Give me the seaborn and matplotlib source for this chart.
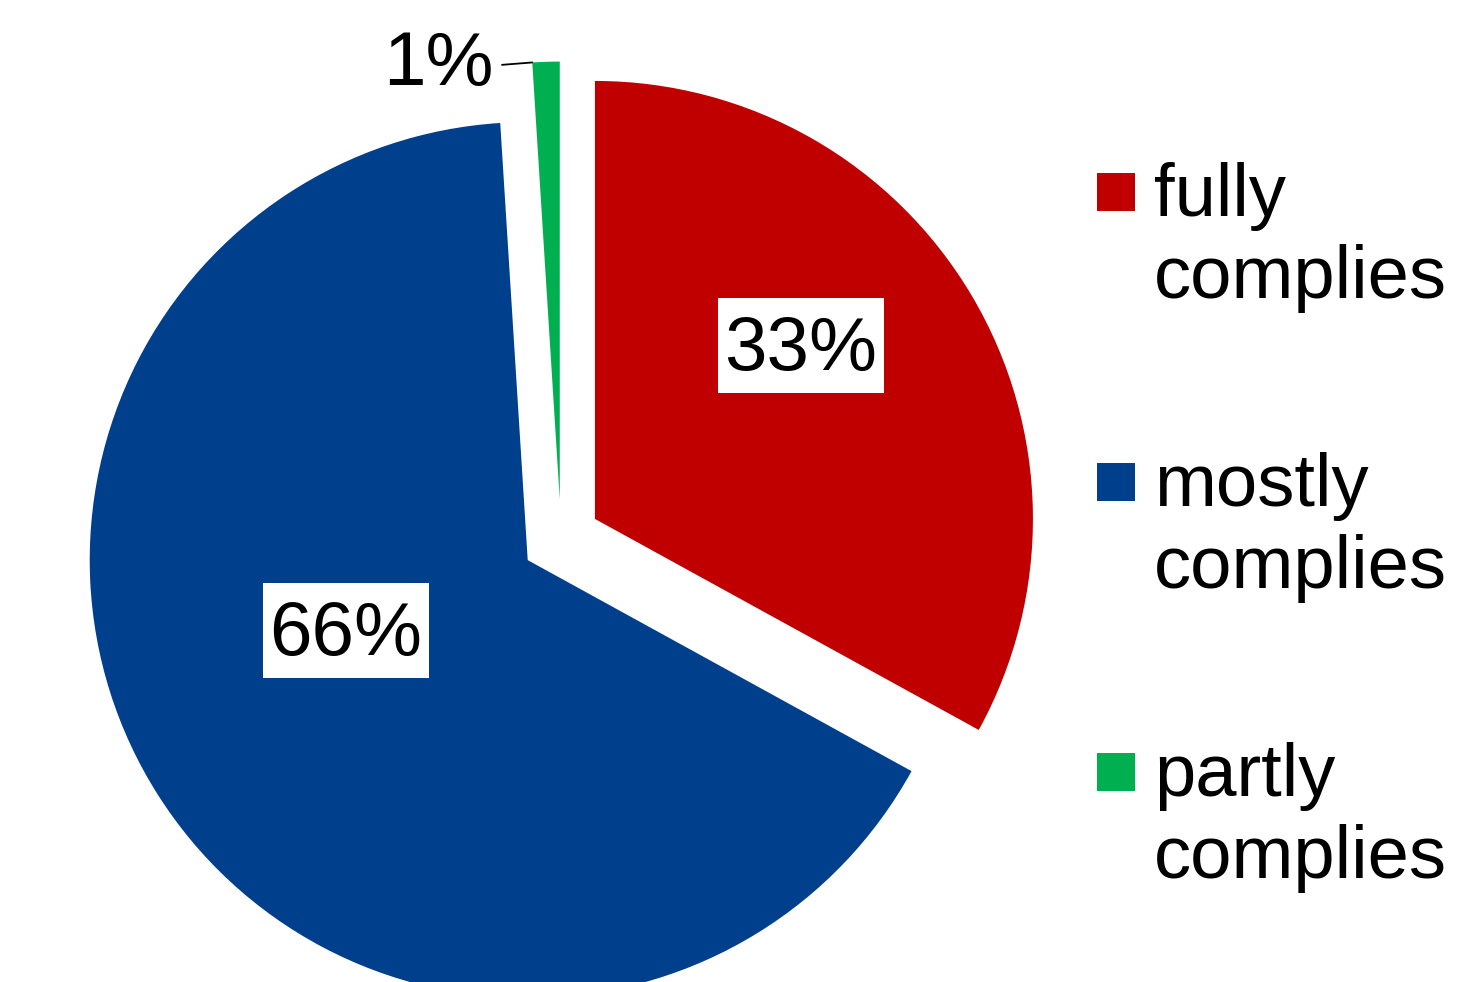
"""
Compliance share pie chart (exploded wedges, boxed percentage labels)
"""

import matplotlib
matplotlib.use('Agg')
import matplotlib.pyplot as plt
import matplotlib.patches as mpatches
import numpy as np
import seaborn as sns

# data
categories = ['fully complies', 'mostly complies', 'partly complies']
shares = [33, 66, 1]
colors = ['#C00000', '#003F8C', '#00B050']

sns.set_theme(style='white')
plt.rcParams['font.family'] = ['Liberation Sans', 'DejaVu Sans']

W, H = 1458, 982
R_PX = 438.0          # pie radius in pixels
CX, CY = 561.0, 539.0  # pie centre in pixels (from top-left)

fig = plt.figure(figsize=(W / 100, H / 100), dpi=100)
fig.patch.set_facecolor('white')
ax = fig.add_axes([0, 0, 1, 1])

wedges, texts, autotexts = ax.pie(
    shares,
    colors=colors,
    startangle=90,
    counterclock=False,
    explode=[0.09] * len(shares),
    radius=1.0,
    autopct='%1.0f%%',
    wedgeprops=dict(linewidth=0, antialiased=True),
    textprops=dict(fontsize=55, color='black'),
)

# label positions (data units, radius = 1)
label_pos = [(0.548, 0.441), (-0.491, -0.209), (-0.281, 1.081)]
box_w, box_h = 166 / R_PX, 95 / R_PX
nudge = 5 / R_PX  # glyphs sit a touch low in the box
for i, t in enumerate(autotexts):
    t.set_ha('center')
    t.set_va('center')
    t.set_zorder(4)
    if i < 2:
        t.set_position((label_pos[i][0], label_pos[i][1] - nudge))
        ax.add_patch(mpatches.Rectangle(
            (label_pos[i][0] - box_w / 2, label_pos[i][1] - box_h / 2), box_w, box_h,
            facecolor='white', edgecolor='none', zorder=3))
    else:
        t.set_position(label_pos[i])

# 1% label gets a leader line to the wedge corner
small = autotexts[2]
small.set_visible(False)
gw = wedges[2]
ang = np.deg2rad(max(gw.theta1, gw.theta2))
corner = (gw.center[0] + gw.r * np.cos(ang), gw.center[1] + gw.r * np.sin(ang))
ax.annotate(small.get_text(), xy=corner, xytext=label_pos[2],
            ha='center', va='center', fontsize=55, color='black',
            arrowprops=dict(arrowstyle='-', color='black', lw=1.3,
                            shrinkA=4, shrinkB=0, relpos=(1.0, 0.5)))

ax.set_aspect('auto')
ax.set_xlim(-CX / R_PX, (W - CX) / R_PX)
ax.set_ylim(-(H - CY) / R_PX, CY / R_PX)
ax.axis('off')

# legend: square + two text lines per entry
sq = 38
for i, (cat, col) in enumerate(zip(categories, colors)):
    top = 173 + i * 290
    fig.patches.append(mpatches.Rectangle(
        (1097 / W, 1 - (top + sq) / H), sq / W, sq / H,
        transform=fig.transFigure, facecolor=col, edgecolor='none'))
    for j, line in enumerate(cat.split(' ')):
        fig.text(1154 / W, 1 - (top + 43 + j * 82) / H, line,
                 fontsize=53.5, color='black', ha='left', va='baseline')

plt.savefig('out.png', dpi=100)
plt.close()
